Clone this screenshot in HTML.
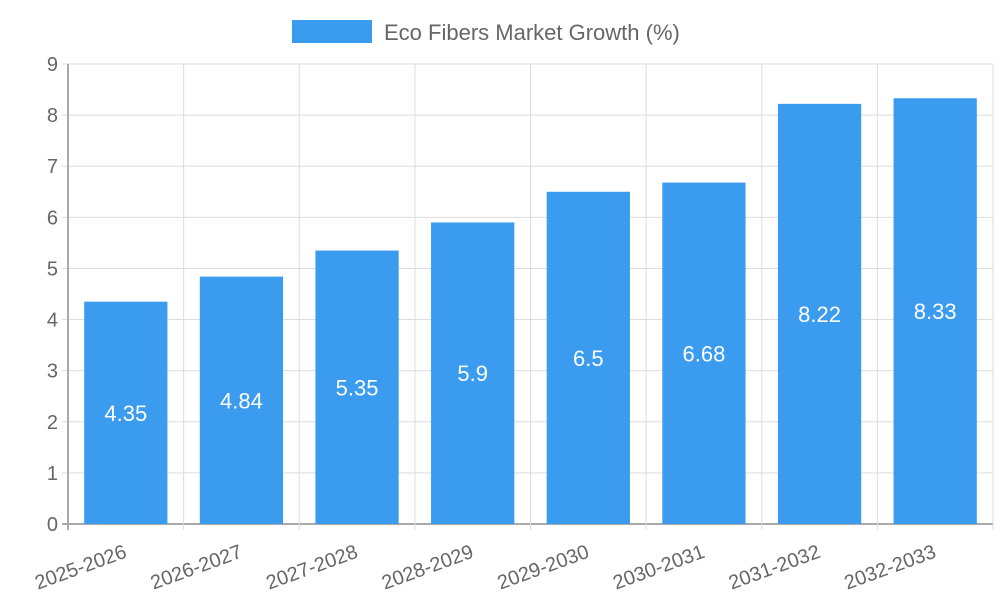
<!DOCTYPE html>
<html><head><meta charset="utf-8"><style>body{margin:0;background:#fff}svg{display:block;font-family:"Liberation Sans",sans-serif}</style></head>
<body>
<svg id="chart" width="1000" height="600" xmlns="http://www.w3.org/2000/svg">
<g>
<rect x="292" y="20" width="80" height="23" fill="#3a9bef"/>
<text x="384" y="40" font-size="22" fill="#666">Eco Fibers Market Growth (%)</text>
</g>
<g id="grid"></g><g id="bars"></g><g id="labels"></g>
</svg>
<script>
const categories=["2025-2026","2026-2027","2027-2028","2028-2029","2029-2030","2030-2031","2031-2032","2032-2033"];
const values=[4.35,4.84,5.35,5.9,6.5,6.68,8.22,8.33];
const yTicks=[0,1,2,3,4,5,6,7,8,9];
const L=68,R=993,T=64,B=524,yMax=9;
const bw=(R-L)/categories.length;
const y=v=>B-(v/yMax)*(B-T);
const x=i=>L+i*bw;
const NS="http://www.w3.org/2000/svg";
function mk(tag,attrs,parent,txt){const e=document.createElementNS(NS,tag);for(const k in attrs)e.setAttribute(k,attrs[k]);if(txt!==undefined)e.textContent=txt;document.getElementById(parent).appendChild(e);return e;}
yTicks.forEach(t=>{
 const g=mk('line',{x1:L-6,x2:R,y1:y(t),y2:y(t),stroke:t===0?'#aaa':'#ddd','stroke-width':t===0?2:1},'grid');
 
 
 const l=mk('text',{x:L-10,y:y(t)+7,'text-anchor':'end','font-size':20,fill:'#666'},'labels',String(t));
 
 
});
for(let i=0;i<=categories.length;i++){
 const g=mk('line',{x1:x(i),x2:x(i),y1:T,y2:B+6,stroke:i===0?'#aaa':'#ddd','stroke-width':i===0?2:1},'grid');
 
 
}
categories.forEach((c,i)=>{
 const cx=x(i)+bw/2,w=bw*0.72;
 const r=mk('rect',{x:cx-w/2,y:y(values[i]),width:w,height:B-y(values[i]),fill:'#3a9bef'},'bars');
 
 
 const v=mk('text',{x:cx,y:(y(values[i])+B)/2+8,'text-anchor':'middle','font-size':22,fill:'#fff'},'labels',String(values[i]));
 
 
 const lx=cx+2,ly=557;
 const t=mk('text',{x:lx,y:ly,'text-anchor':'end','font-size':20,fill:'#666',transform:`rotate(-20 ${lx} ${ly})`},'labels',c);
 
 
});
</script>
</body></html>
